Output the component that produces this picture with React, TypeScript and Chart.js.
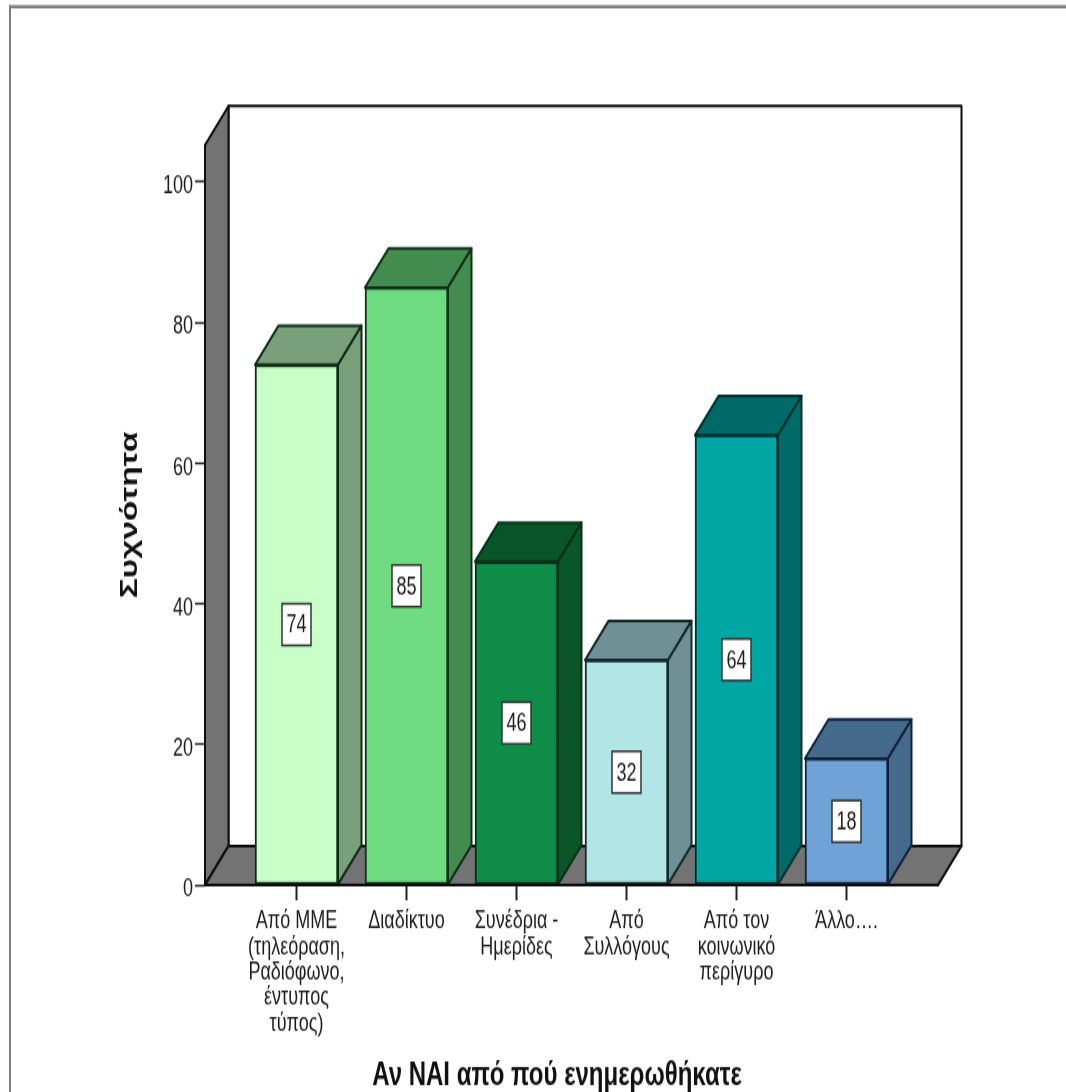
import React, { useEffect, useRef } from "react";
import { Chart, registerables } from "chart.js";

Chart.register(...registerables);

const WIDTH = 1066;
const HEIGHT = 1092;
// The chart is drawn on a shorter canvas and stretched to full height, which gives its tall, narrow lettering.
const STRETCH = 1.39;
const CANVAS_HEIGHT = Math.round(HEIGHT / STRETCH);
const SCALE_Y = HEIGHT / CANVAS_HEIGHT;

const categories = [
  ["Από ΜΜΕ", "(τηλεόραση,", "Ραδιόφωνο,", "έντυπος", "τύπος)"],
  ["Διαδίκτυο"],
  ["Συνέδρια -", "Ημερίδες"],
  ["Από", "Συλλόγους"],
  ["Από τον", "κοινωνικό", "περίγυρο"],
  ["Άλλο…."],
];
const frequencies = [74, 85, 46, 32, 64, 18];
const valueTicks = [0, 20, 40, 60, 80, 100];
const xAxisTitle = "Αν ΝΑΙ από πού ενημερωθήκατε";
const yAxisTitle = "Συχνότητα";

const frontColors = ["#c8ffc8", "#70dc82", "#0f8c47", "#b1e5e6", "#00a6a3", "#6fa3d8"];
const shadeColors = ["#79a07b", "#428c50", "#0b5628", "#6f9094", "#006a68", "#466a8c"];
const edgeColors = ["#0f2a14", "#0f3019", "#06301a", "#14292b", "#00302f", "#10233e"];

const WALL_GRAY = "#737373";
const INK = "#0d0d0d";
const TEXT = "#1c1c1c";
const FONT = "'Liberation Sans', Arial, sans-serif";
const DEPTH_X = 23.5;
const DEPTH_Y = -39 / SCALE_Y;

const polygon = (ctx: CanvasRenderingContext2D, pts: number[][], fill: string, stroke: string, lw = 2) => {
  ctx.beginPath();
  pts.forEach(([x, y], i) => (i ? ctx.lineTo(x, y) : ctx.moveTo(x, y)));
  ctx.closePath();
  ctx.fillStyle = fill;
  ctx.fill();
  ctx.lineWidth = lw;
  ctx.lineJoin = "round";
  ctx.strokeStyle = stroke;
  ctx.stroke();
};

// Page frame, back wall, side wall and floor of the 3D box, sitting behind the bars.
const boxPlugin = {
  id: "box3d",
  beforeDatasetsDraw(chart: any) {
    const { ctx, chartArea: a } = chart;
    ctx.save();
    ctx.fillStyle = "#808080";
    ctx.fillRect(9, 3.6, WIDTH - 9, 2.4);
    ctx.fillRect(9, 3.6, 2, CANVAS_HEIGHT - 3.6);

    const bx = a.left + DEPTH_X;
    const by = a.top + DEPTH_Y;
    const fy = a.bottom + DEPTH_Y;
    polygon(ctx, [[bx, by], [a.right + DEPTH_X, by], [a.right + DEPTH_X, fy], [bx, fy]], "#ffffff", INK);
    polygon(ctx, [[a.left, a.top], [bx, by], [bx, fy], [a.left, a.bottom]], WALL_GRAY, INK);
    polygon(ctx, [[a.left, a.bottom], [bx, fy], [a.right + DEPTH_X, fy], [a.right, a.bottom]], WALL_GRAY, INK);

    // Top and side faces of each bar.
    const meta = chart.getDatasetMeta(0);
    meta.data.forEach((bar: any, i: number) => {
      const half = bar.width / 2;
      const l = bar.x - half;
      const r = bar.x + half;
      const t = bar.y;
      const b = bar.base;
      polygon(ctx, [[l, t], [l + DEPTH_X, t + DEPTH_Y], [r + DEPTH_X, t + DEPTH_Y], [r, t]], shadeColors[i], edgeColors[i]);
      polygon(ctx, [[r, t], [r + DEPTH_X, t + DEPTH_Y], [r + DEPTH_X, b + DEPTH_Y], [r, b]], shadeColors[i], edgeColors[i]);
    });
    ctx.restore();
  },
  // Front axis line and the boxed value labels go over the bars.
  afterDatasetsDraw(chart: any) {
    const { ctx, chartArea: a } = chart;
    ctx.save();
    ctx.strokeStyle = INK;
    ctx.lineWidth = 2;
    ctx.beginPath();
    ctx.moveTo(a.left, a.bottom);
    ctx.lineTo(a.right, a.bottom);
    ctx.stroke();

    const meta = chart.getDatasetMeta(0);
    ctx.font = `18px ${FONT}`;
    ctx.textAlign = "center";
    ctx.textBaseline = "middle";
    meta.data.forEach((bar: any, i: number) => {
      const cy = (bar.y + bar.base) / 2;
      const w = 29;
      const h = 30;
      ctx.fillStyle = "#ffffff";
      ctx.fillRect(bar.x - w / 2, cy - h / 2, w, h);
      ctx.strokeStyle = "#333333";
      ctx.lineWidth = 1.5;
      ctx.strokeRect(bar.x - w / 2, cy - h / 2, w, h);
      ctx.fillStyle = TEXT;
      ctx.fillText(String(frequencies[i]), bar.x, cy + 1);
    });

    // Category axis title, centred a little left of the plot.
    ctx.font = `bold 24px ${FONT}`;
    ctx.fillStyle = "#111111";
    ctx.fillText(xAxisTitle, 557, 774);
    ctx.restore();
  },
};

export default function App() {
  const ref = useRef<HTMLCanvasElement>(null);

  useEffect(() => {
    const chart = new Chart(ref.current as HTMLCanvasElement, {
      type: "bar",
      data: {
        datasets: [
          {
            label: yAxisTitle,
            data: frequencies.map((y, x) => ({ x, y })),
            backgroundColor: frontColors,
            borderColor: edgeColors,
            borderWidth: 2,
            borderSkipped: false,
            barThickness: 83,
          },
        ],
      },
      options: {
        responsive: false,
        animation: false,
        devicePixelRatio: 1,
        layout: { padding: { top: 145 / SCALE_Y, right: 128, left: 0, bottom: 0 } },
        plugins: { legend: { display: false }, tooltip: { enabled: false } },
        scales: {
          x: {
            type: "linear",
            offset: false,
            min: -0.8318,
            max: 5.8318,
            afterBuildTicks: (s: any) => {
              s.ticks = categories.map((_, value) => ({ value }));
            },
            afterFit: (s: any) => {
              s.height = (HEIGHT - 885) / SCALE_Y;
            },
            grid: { offset: false, drawOnChartArea: false, drawTicks: true, tickLength: 11, tickColor: "#222222", tickWidth: 2 },
            border: { display: false },
            ticks: {
              autoSkip: false,
              maxRotation: 0,
              minRotation: 0,
              padding: 6,
              color: TEXT,
              font: { family: FONT, size: 18, lineHeight: 1.02 },
              callback: (v: any) => categories[v] ?? "",
            },
          },
          y: {
            min: 0,
            max: 105.26,
            afterBuildTicks: (s: any) => {
              s.ticks = valueTicks.map((value) => ({ value }));
            },
            afterFit: (s: any) => {
              s.width = 205;
            },
            grid: { drawOnChartArea: false, drawTicks: true, tickLength: 10, tickColor: "#222222", tickWidth: 1.5 },
            border: { display: false },
            ticks: {
              padding: 2,
              color: TEXT,
              // A blank first line with a tight line height sets each number just below its tick mark.
              font: { family: FONT, size: 18, lineHeight: 0.36 },
              callback: (v: any) => ["", String(v)],
            },
            title: {
              display: true,
              text: yAxisTitle,
              color: "#111111",
              font: { family: FONT, size: 24, weight: "bold" },
              padding: { top: 116, bottom: 0 },
            },
          },
        },
      },
      plugins: [boxPlugin],
    } as any);
    return () => chart.destroy();
  }, []);

  return (
    <div style={{ position: "absolute", left: 0, top: 0, width: WIDTH, height: HEIGHT, overflow: "hidden", background: "#ffffff" }}>
      <div style={{ width: WIDTH, height: CANVAS_HEIGHT, transformOrigin: "0 0", transform: `scale(1, ${SCALE_Y})` }}>
        <canvas ref={ref} width={WIDTH} height={CANVAS_HEIGHT} />
      </div>
    </div>
  );
}
